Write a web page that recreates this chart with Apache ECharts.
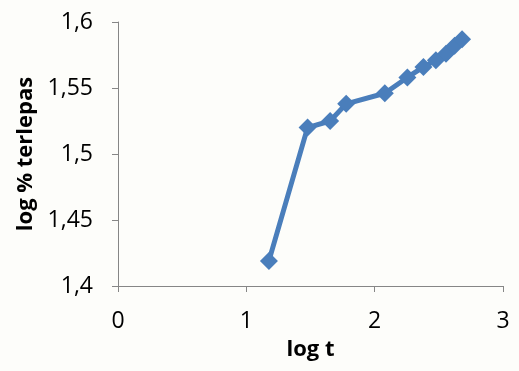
<!DOCTYPE html>
<html>
<head>
<meta charset="utf-8">
<script src="https://cdn.jsdelivr.net/npm/echarts@6/dist/echarts.min.js"></script>
<style>
  html, body { margin: 0; padding: 0; background: #fdfdfa; }
  #chart { width: 519px; height: 371px; }
</style>
</head>
<body>
<div id="chart"></div>
<script>
// log of sampling time (minutes) against log of percent released
const logT = [1.176, 1.477, 1.653, 1.778, 2.079, 2.255, 2.380, 2.477, 2.556, 2.623, 2.681];
const logRelease = [1.419, 1.520, 1.525, 1.538, 1.546, 1.558, 1.566, 1.571, 1.576, 1.582, 1.587];
const xTicks = [0, 1, 2, 3];
const yTicks = [1.4, 1.45, 1.5, 1.55, 1.6];

const points = logT.map((x, i) => [x, logRelease[i]]);
const comma = v => String(v).replace('.', ',');
const labelFont = '"Open Sans", "Liberation Sans", sans-serif';

const chart = echarts.init(document.getElementById('chart'));
chart.setOption({
  backgroundColor: '#fdfdfa',
  animation: false,
  grid: { left: 118, right: 16, top: 22, bottom: 85 },
  xAxis: {
    type: 'value',
    min: xTicks[0], max: xTicks[xTicks.length - 1], interval: 1,
    name: 'log t', nameLocation: 'middle', nameGap: 53,
    nameTextStyle: { fontFamily: labelFont, fontWeight: 'bold', fontSize: 22, color: '#000' },
    axisLine: { onZero: false, lineStyle: { color: '#868686', width: 1 } },
    axisTick: { show: true, length: 6, lineStyle: { color: '#868686' } },
    axisLabel: { fontFamily: labelFont, fontSize: 23, color: '#000', margin: 24, formatter: comma },
    splitLine: { show: false }
  },
  yAxis: {
    type: 'value',
    min: yTicks[0], max: yTicks[yTicks.length - 1], interval: 0.05,
    name: 'log % terlepas', nameLocation: 'middle', nameGap: 78, nameRotate: 90,
    nameTextStyle: { fontFamily: labelFont, fontWeight: 'bold', fontSize: 22, color: '#000' },
    axisLine: { show: true, lineStyle: { color: '#868686', width: 1 } },
    axisTick: { show: true, length: 6, lineStyle: { color: '#868686' } },
    axisLabel: {
      fontFamily: labelFont, fontSize: 23, color: '#000', margin: 25,
      formatter: v => comma(Math.round(v * 100) / 100)
    },
    splitLine: { show: false }
  },
  series: [{
    type: 'line',
    data: points,
    symbol: 'diamond',
    symbolSize: 18,
    lineStyle: { color: '#4a7ebb', width: 5 },
    itemStyle: { color: '#4a7ebb' }
  }]
});
</script>
</body>
</html>
